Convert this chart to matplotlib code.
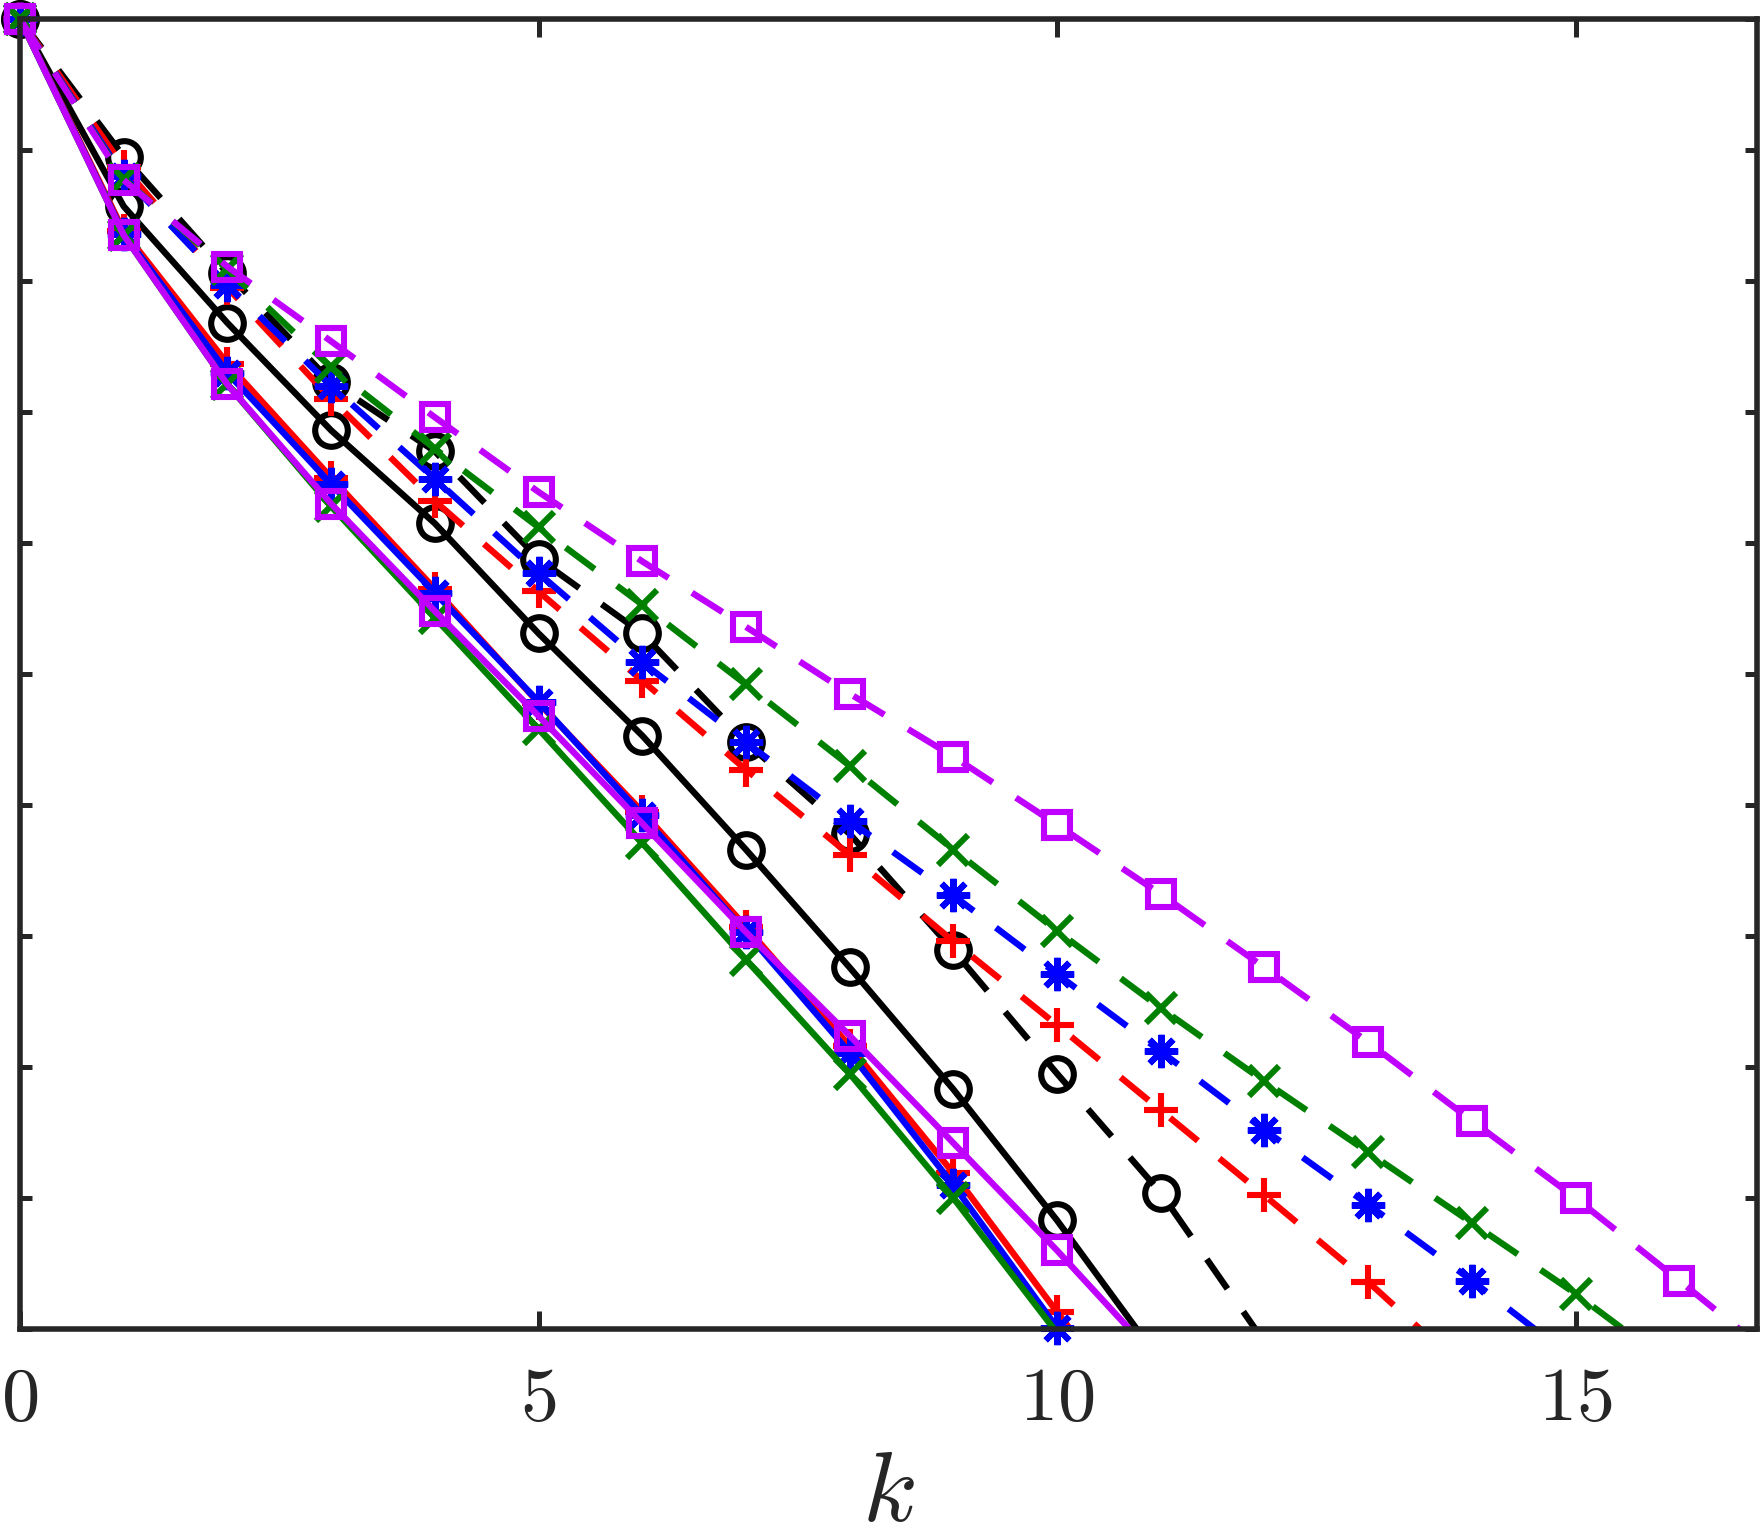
import numpy as np
import matplotlib.pyplot as plt

plt.rcParams["mathtext.fontset"] = "cm"
plt.rcParams["lines.scale_dashes"] = False

# log10 of the error at iteration k
black_solid = [0, -1.43, -2.32, -3.14, -3.85, -4.69, -5.47, -6.34, -7.24, -8.17, -9.17, -10.25]
black_dash = [0, -1.05, -1.94, -2.77, -3.30, -4.12, -4.69, -5.52, -6.22, -7.11, -8.05, -8.96, -10.1]
red_solid = [0, -1.62, -2.63, -3.50, -4.35, -5.22, -6.05, -6.93, -7.84, -8.81, -9.87, -10.9]
red_dash = [0, -1.13, -2.05, -2.90, -3.68, -4.37, -5.05, -5.73, -6.38, -7.04, -7.68, -8.33,
            -8.98, -9.64, -10.36]
blue_solid = [0, -1.64, -2.70, -3.55, -4.38, -5.21, -6.08, -6.97, -7.89, -8.90, -9.99, -11.0]
blue_dash = [0, -1.20, -2.03, -2.80, -3.51, -4.23, -4.91, -5.52, -6.12, -6.69, -7.29, -7.88,
             -8.48, -9.05, -9.63, -10.24]
green_solid = [0, -1.65, -2.79, -3.72, -4.57, -5.42, -6.29, -7.18, -8.05, -9.00, -10.03, -11.0]
green_dash = [0, -1.22, -1.91, -2.66, -3.28, -3.88, -4.47, -5.08, -5.70, -6.34, -6.96, -7.55,
              -8.11, -8.65, -9.19, -9.73, -10.32]
purple_solid = [0, -1.65, -2.79, -3.70, -4.52, -5.32, -6.14, -6.97, -7.76, -8.58, -9.40, -10.26]
purple_dash = [0, -1.23, -1.89, -2.46, -3.04, -3.61, -4.14, -4.64, -5.15, -5.63, -6.15, -6.68,
               -7.24, -7.81, -8.41, -9.00, -9.63, -10.27]

x_ticks = [0, 5, 10, 15]
x_max = 16.75
y_min, y_max = -10, 0

purple = "#BF00FF"
green = "#008000"
axis_color = "#262626"

asterisk = (8, 2, 0)
series = [
    (black_solid, "black", "o", "-", 23.5),
    (black_dash, "black", "o", "--", 23.5),
    (red_solid, "red", "+", "-", 24),
    (red_dash, "red", "+", "--", 24),
    (blue_solid, "blue", asterisk, "-", 24),
    (blue_dash, "blue", asterisk, "--", 24),
    (green_solid, green, "x", "-", 21),
    (green_dash, green, "x", "--", 21),
    (purple_solid, purple, "s", "-", 18.7),
    (purple_dash, purple, "s", "--", 18.7),
]

fig = plt.figure(figsize=(17.6, 15.39), dpi=100)
ax = fig.add_axes([0.01136, 0.13645, 0.98694, 0.8512])

for vals, color, marker, style, ms in series:
    vals = np.array(vals)
    k = np.arange(len(vals))
    line, = ax.plot(k, vals, color=color, linewidth=4.6, linestyle=style)
    if style == "--":
        line.set_dashes((26, 20))
    # markers are not clipped at the frame, only points inside the limits get one
    inside = (vals >= y_min - 1e-9) & (k <= x_max)
    ax.plot(k[inside], vals[inside], linestyle="none", marker=marker, markersize=ms,
            markerfacecolor="none", markeredgecolor=color, markeredgewidth=4.4,
            clip_on=False)

ax.set_xlim(0, x_max)
ax.set_ylim(y_min, y_max)
ax.set_xticks(x_ticks)
ax.set_xticklabels([f"${t}$" for t in x_ticks])
ax.set_yticks(np.arange(y_min, y_max + 1))
ax.set_yticklabels([])

for s in ax.spines.values():
    s.set_linewidth(4)
    s.set_color(axis_color)

ax.tick_params(axis="both", direction="in", top=True, right=True, width=3.6,
               color=axis_color, labelcolor=axis_color, labelsize=55, pad=24)
ax.tick_params(axis="x", length=13)
ax.tick_params(axis="y", length=8.5)

ax.set_xlabel("$k$", fontsize=72, color=axis_color, labelpad=6)

fig.savefig("out.png", dpi=100)
